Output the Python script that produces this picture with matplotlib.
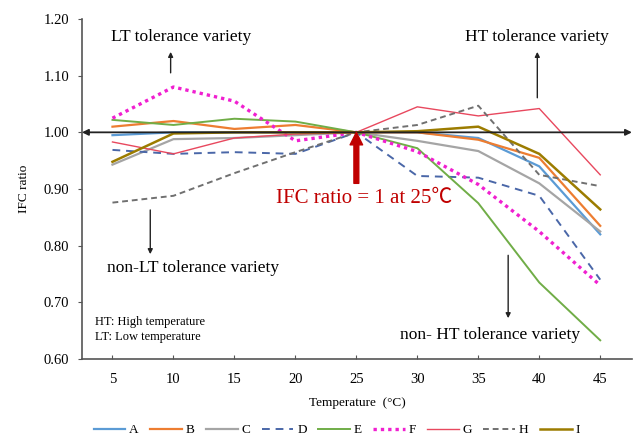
import numpy as np
import matplotlib.pyplot as plt

plt.rcParams['font.family'] = ['Liberation Serif', 'DejaVu Serif']

# temperatures and IFC ratio per variety
temps = [5, 10, 15, 20, 25, 30, 35, 40, 45]
A = [0.995, 1.00, 1.00, 1.00, 1.00, 1.00, 0.99, 0.94, 0.82]
B = [1.01, 1.02, 1.006, 1.013, 1.00, 1.00, 0.987, 0.955, 0.835]
C = [0.943, 0.988, 0.99, 0.995, 1.00, 0.985, 0.967, 0.91, 0.825]
D = [0.969, 0.962, 0.965, 0.962, 1.00, 0.923, 0.92, 0.888, 0.74]
E = [1.022, 1.013, 1.024, 1.019, 1.00, 0.972, 0.875, 0.735, 0.633]
F = [1.025, 1.08, 1.055, 0.985, 1.00, 0.966, 0.908, 0.825, 0.73]
G = [0.983, 0.962, 0.99, 0.997, 1.00, 1.045, 1.029, 1.042, 0.925]
H = [0.876, 0.888, 0.928, 0.965, 1.00, 1.013, 1.047, 0.925, 0.905]
I = [0.948, 0.998, 1.00, 1.00, 1.00, 1.002, 1.01, 0.962, 0.864]

names = ["A", "B", "C", "D", "E", "F", "G", "H", "I"]
series = [A, B, C, D, E, F, G, H, I]
colors = ["#5b9bd5", "#ed7d31", "#a5a5a5", "#4a67a8", "#70ad47",
          "#f020d0", "#e8485e", "#707070", "#9c7c00"]
styles = ["-", "-", "-", (0, (4, 3)), "-", (0, (1, 1.2)), "-", (0, (3, 2)), "-"]
widths = [1.6, 1.6, 1.6, 1.4, 1.4, 2.4, 1.0, 1.4, 1.8]

fig = plt.figure(figsize=(6.38, 4.36), dpi=100)
ax = fig.add_axes([0.1285, 0.1766, 0.862, 0.7798])

for name, vals, c, ls, lw in zip(names, series, colors, styles, widths):
    ax.plot(temps, vals, color=c, linestyle=ls, linewidth=lw, label=name)

ax.set_xlim(2.5, 47.6)
ax.set_ylim(0.6, 1.2)
ax.set_xticks(temps)
ax.set_yticks(np.arange(0.6, 1.21, 0.1))
ax.set_yticklabels(["%.2f" % v for v in np.arange(0.6, 1.21, 0.1)])
ax.spines['top'].set_visible(False)
ax.spines['right'].set_visible(False)
ax.spines['left'].set_color('#555555')
ax.spines['bottom'].set_color('#555555')
ax.spines['left'].set_linewidth(1.2)
ax.spines['bottom'].set_linewidth(1.2)
ax.tick_params(axis='x', direction='in', length=3, labelsize=10.5, pad=10, color='#555555')
ax.tick_params(axis='y', direction='out', length=3, labelsize=10.5, pad=6, color='#555555')
ax.set_xlabel("Temperature  (\u00b0C)", fontsize=9.5, labelpad=8)
ax.set_ylabel("IFC ratio", fontsize=9.5, labelpad=10)

# double arrow at ratio 1
ax.annotate("", xy=(2.5, 1.0), xytext=(47.6, 1.0),
            arrowprops=dict(arrowstyle="<|-|>", color="#222222", lw=1.3,
                            mutation_scale=9, shrinkA=0, shrinkB=0),
            annotation_clip=False)

# red arrow at 25
ax.annotate("", xy=(25, 1.0), xytext=(25, 0.91),
            arrowprops=dict(arrowstyle="simple,head_width=0.9,head_length=0.9,tail_width=0.35",
                            color="#c00000", shrinkA=0, shrinkB=0))
ax.text(25.6, 0.884, "IFC ratio = 1 at 25\u2103", color="#c00000", fontsize=15,
        ha='center', va='center', family=['Liberation Serif', 'Noto Sans CJK SC'])

arrow_kw = dict(arrowstyle="-|>", color="#222222", lw=1.0, mutation_scale=7,
                shrinkA=0, shrinkB=0)
ax.annotate("", xy=(9.77, 1.142), xytext=(9.77, 1.105), arrowprops=arrow_kw)
ax.text(10.67, 1.169, "LT tolerance variety", fontsize=12.5, ha='center', va='center')

ax.annotate("", xy=(39.84, 1.142), xytext=(39.84, 1.061), arrowprops=arrow_kw)
ax.text(39.84, 1.169, "HT tolerance variety", fontsize=12.5, ha='center', va='center')

ax.annotate("", xy=(8.1, 0.785), xytext=(8.1, 0.863), arrowprops=arrow_kw)
ax.text(11.57, 0.760, "non-LT tolerance variety", fontsize=12.5, ha='center', va='center')

ax.annotate("", xy=(37.45, 0.672), xytext=(37.45, 0.783), arrowprops=arrow_kw)
ax.text(35.98, 0.642, "non- HT tolerance variety", fontsize=12.5, ha='center', va='center')

ax.text(3.6, 0.665, "HT: High temperature", fontsize=9, ha='left', va='center')
ax.text(3.6, 0.639, "LT: Low temperature", fontsize=9, ha='left', va='center')

fig.legend(loc='lower center', bbox_to_anchor=(0.528, -0.028), ncol=9, frameon=False,
           fontsize=9.5, handlelength=2.4, columnspacing=0.85, handletextpad=0.3)

fig.savefig("out.png", dpi=100)
